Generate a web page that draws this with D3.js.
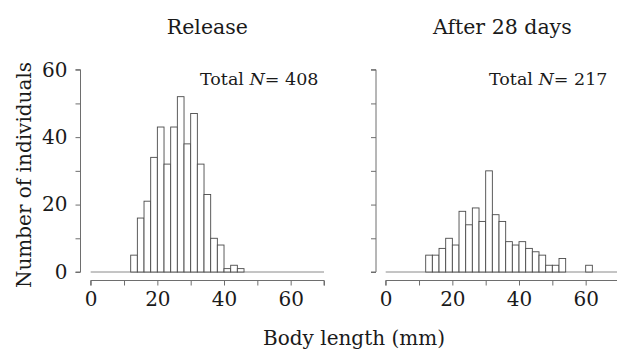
<!DOCTYPE html>
<html><head><meta charset="utf-8">
<script src="https://cdn.jsdelivr.net/npm/d3@7"></script>
<style>
html,body{margin:0;padding:0;background:#fff;}
svg{display:block;}
text{font-family:"DejaVu Serif",serif;fill:#1a1a1a;}
</style></head>
<body>
<svg id="chart" width="617" height="352"></svg>
<script>
// ---- data ----
const panelTitles = ["Release", "After 28 days"];
const panelTotals = [408, 217];
const releaseBinStarts = [12,14,16,18,20,22,24,26,28,30,32,34,36,38,40,42,44];
const releaseCounts    = [5,16,21,34,43,32,43,52,38,47,32,23,10,8,1,2,1];
const after28BinStarts = [12,14,16,18,20,22,24,26,28,30,32,34,36,38,40,42,44,46,48,50,52,54,56,58,60];
const after28Counts    = [5,5,7,10,8,18,14,19,15,30,17,15,9,8,9,7,6,5,2,2,4,0,0,0,2];
const binWidth = 2;
const xTicks = [0,10,20,30,40,50,60,70];
const xTickLabels = [0,20,40,60];
const yTicks = [0,10,20,30,40,50,60];
const yTickLabels = [0,20,40,60];
const xLabel = "Body length (mm)";
const yLabel = "Number of individuals";

const svg = d3.select("#chart");
const axisColor = "#6e6e6e";
const barStroke = "#4a4a4a";

const panels = [
  {title: panelTitles[0], total: panelTotals[0], starts: releaseBinStarts, counts: releaseCounts,
   xRange: [90.7, 324], yAxisX: 80.5, totalX: 200, showYLabels: true},
  {title: panelTitles[1], total: panelTotals[1], starts: after28BinStarts, counts: after28Counts,
   xRange: [385.7, 619], yAxisX: 376, totalX: 489, showYLabels: false}
];

const y = d3.scaleLinear().domain([0, 60]).range([272, 69.7]);
const xAxisY = 280.5;

panels.forEach(p => {
  const x = d3.scaleLinear().domain([0, 70]).range(p.xRange);
  const g = svg.append("g");

  // baseline
  g.append("line")
    .attr("x1", x(0)).attr("x2", Math.min(x(70), 617))
    .attr("y1", y(0)).attr("y2", y(0))
    .attr("stroke", "#8a8a8a").attr("stroke-width", 1);

  // bars
  const data = p.starts.map((s, i) => ({x0: s, x1: s + binWidth, n: p.counts[i]})).filter(d => d.n > 0);
  g.selectAll("rect.bar").data(data).enter().append("rect")
    .attr("class", "bar")
    .attr("x", d => x(d.x0))
    .attr("width", d => x(d.x1) - x(d.x0))
    .attr("y", d => y(d.n))
    .attr("height", d => y(0) - y(d.n))
    .attr("fill", "#fff")
    .attr("stroke", barStroke)
    .attr("stroke-width", 0.9);

  // x axis
  const xa = d3.axisBottom(x).tickValues(xTicks).tickSize(5).tickPadding(4)
    .tickFormat(d => xTickLabels.includes(d) ? d : "");
  const gx = g.append("g").attr("transform", `translate(0,${xAxisY})`).call(xa);
  gx.select(".domain").attr("stroke", axisColor).attr("d", `M${x(0)},5V0H${x(70)}V5`);
  gx.selectAll(".tick line").attr("stroke", axisColor);
  gx.selectAll(".tick text").attr("font-size", 20).attr("font-family", "DejaVu Serif")
    .attr("fill", "#1a1a1a").attr("y", 11).attr("dy", "0.71em");

  // y axis
  const ya = d3.axisLeft(y).tickValues(yTicks).tickSize(5).tickPadding(8)
    .tickFormat(d => (p.showYLabels && yTickLabels.includes(d)) ? d : "");
  const gy = g.append("g").attr("transform", `translate(${p.yAxisX},0)`).call(ya);
  gy.select(".domain").attr("stroke", axisColor).attr("d", `M-5,${y(60)}H0V${y(0)}H-5`);
  gy.selectAll(".tick line").attr("stroke", axisColor);
  gy.selectAll(".tick text").attr("font-size", 20).attr("font-family", "DejaVu Serif").attr("fill", "#1a1a1a");

  // title
  g.append("text")
    .attr("x", (p.xRange[0] + p.xRange[1]) / 2).attr("y", 34)
    .attr("text-anchor", "middle").attr("font-size", 20.5)
    .text(p.title);

  // total N
  const t = g.append("text").attr("x", p.totalX).attr("y", 85).attr("font-size", 17.5);
  t.append("tspan").text("Total ");
  t.append("tspan").attr("font-style", "italic").text("N");
  t.append("tspan").text("= " + p.total);
});

// axis labels
svg.append("text")
  .attr("x", 354).attr("y", 345)
  .attr("text-anchor", "middle").attr("font-size", 20)
  .text(xLabel);

svg.append("text")
  .attr("transform", "translate(31,175) rotate(-90)")
  .attr("text-anchor", "middle").attr("font-size", 20)
  .text(yLabel);
</script>
</body></html>
